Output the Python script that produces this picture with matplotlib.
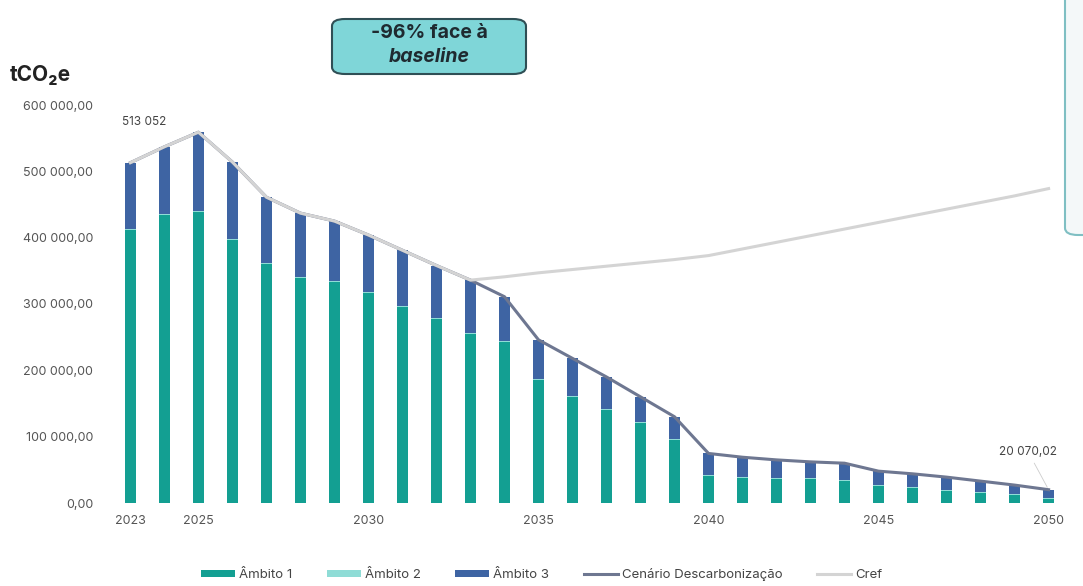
import matplotlib.pyplot as plt
from matplotlib.patches import FancyBboxPatch
from matplotlib.ticker import FuncFormatter

plt.rcParams['font.family'] = ['Inter', 'DejaVu Sans']

years = list(range(2023, 2051))
total = [513052, 537000, 559000, 514000, 461000, 437000, 425000, 404000, 381000, 358000,
         336000, 311000, 246000, 218000, 190000, 160000, 130000, 74700, 69000, 65000,
         62000, 60000, 48000, 44000, 39000, 33000, 27000, 20070]
ambito1 = [411000, 434000, 439000, 396000, 361000, 339000, 333000, 316000, 296000, 278000,
           255000, 243000, 185000, 160000, 140000, 120000, 95000, 40000, 38000, 36000,
           36000, 33000, 25000, 22000, 18000, 15000, 12000, 6000]
ambito2 = [1500] * len(years)
ambito3 = [t - a1 - a2 for t, a1, a2 in zip(total, ambito1, ambito2)]
cref = [513052, 537000, 559000, 514000, 461000, 437000, 425000, 404000, 381000, 358000,
        336000, 341000, 347000, 352000, 357000, 362000, 367000, 373000, 383000, 393000,
        403000, 413000, 423000, 433000, 443000, 453000, 463000, 474000]
xticks = [2023, 2025, 2030, 2035, 2040, 2045, 2050]

c_a1 = '#139f92'
c_a2 = '#8fdcd6'
c_a3 = '#3e64a3'
c_line = '#6e7791'
c_cref = '#d4d4d4'

fig = plt.figure(figsize=(10.83, 5.86), dpi=100)
ax = fig.add_axes([110 / 1083, 83 / 586, 959 / 1083, 398 / 586])

w = 0.3
b1 = ax.bar(years, ambito1, w, color=c_a1, label='Âmbito 1', zorder=2)
b2 = ax.bar(years, ambito2, w, bottom=ambito1, color=c_a2, label='Âmbito 2', zorder=2)
bot3 = [a + b for a, b in zip(ambito1, ambito2)]
b3 = ax.bar(years, ambito3, w, bottom=bot3, color=c_a3, label='Âmbito 3', zorder=2)
l1, = ax.plot(years, total, color=c_line, lw=2.2, label='Cenário Descarbonização', zorder=3)
l2, = ax.plot(years, cref, color=c_cref, lw=2.2, label='Cref', zorder=4)

ax.set_xlim(2022.4, 2050.6)
ax.set_ylim(0, 600000)
ax.set_xticks(xticks)
ax.set_yticks(range(0, 600001, 100000))
ax.yaxis.set_major_formatter(FuncFormatter(lambda v, p: f'{v:,.2f}'.replace(',', ' ').replace('.', ',')))
ax.tick_params(length=0, labelsize=9, colors='#555555')
ax.tick_params(axis='y', pad=12)
ax.tick_params(axis='x', pad=9)
for s in ax.spines.values():
    s.set_visible(False)

ax.annotate('513 052', (2023, total[0]), xytext=(2023.4, 565000), fontsize=8.5,
            color='#444444', ha='center', va='bottom')
ax.annotate('20 070,02', (2050, total[-1]), xytext=(2049.4, 68000), fontsize=8.5,
            color='#444444', ha='center', va='bottom',
            arrowprops=dict(arrowstyle='-', color='#cccccc', lw=0.6))

fig.text(10 / 1083, 1 - 75 / 586, 'tCO₂e', fontsize=15, fontweight='bold',
         color='#222222', va='center')

box = FancyBboxPatch((332 / 1083, 1 - 74 / 586), 194 / 1083, 55 / 586,
                     boxstyle='round,pad=0,rounding_size=0.012', transform=fig.transFigure,
                     facecolor='#7fd6d8', edgecolor='#2f4f55', lw=1.5)
fig.patches.append(box)
fig.text(429 / 1083, 1 - 33 / 586, '-96% face à', fontsize=14, fontweight='bold',
         color='#1f2a30', ha='center', va='center')
fig.text(429 / 1083, 1 - 57 / 586, 'baseline', fontsize=14, fontweight='bold',
         style='italic', color='#1f2a30', ha='center', va='center')

box2 = FancyBboxPatch((1065 / 1083, 1 - 235 / 586), 40 / 1083, 245 / 586,
                      boxstyle='round,pad=0,rounding_size=0.012', transform=fig.transFigure,
                      facecolor='#f4f8f9', edgecolor='#7fbfc3', lw=1.5)
fig.patches.append(box2)

fig.legend([b1, b2, b3, l1, l2],
           ['Âmbito 1', 'Âmbito 2', 'Âmbito 3', 'Cenário Descarbonização', 'Cref'],
           loc='lower center', bbox_to_anchor=(0.5, -0.012), ncol=5, frameon=False,
           fontsize=9.5, handlelength=2.6, handleheight=0.45, handletextpad=0.3,
           columnspacing=2.6, labelcolor='#444444')

fig.savefig('out.png', dpi=100)
